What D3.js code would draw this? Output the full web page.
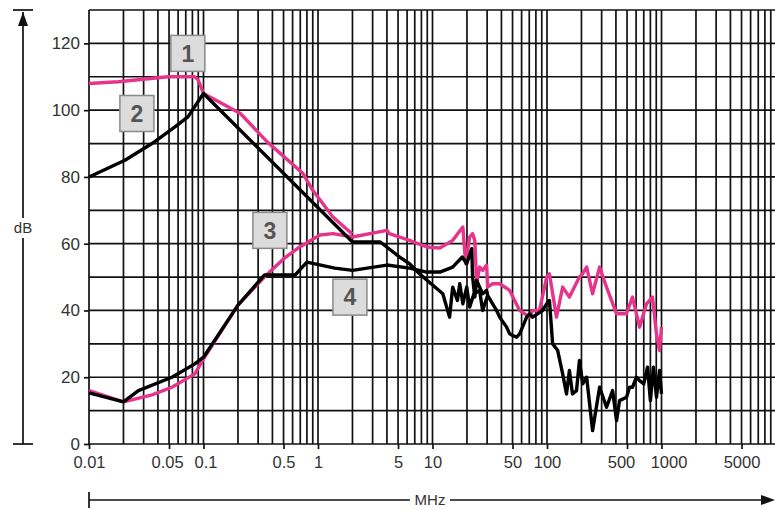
<!DOCTYPE html>
<html>
<head>
<meta charset="utf-8">
<script src="https://cdn.jsdelivr.net/npm/d3@7"></script>
<style>
  html, body { margin: 0; padding: 0; background: #fff; }
  svg { display: block; }
  text { font-family: "Liberation Sans", Arial, Helvetica, sans-serif; }
</style>
</head>
<body>
<svg id="chart" width="775" height="510"></svg>
<script>
'use strict';

// curve 1 (magenta, upper)
const curve1 = [
  [0.01, 108], [0.018, 108.5], [0.049, 110], [0.084, 110], [0.09, 109], [0.1, 105],
  [0.21, 99], [0.36, 90.5], [0.74, 81], [0.9, 76], [1.35, 68], [1.9, 63.5], [2.0, 63]
];

// curve 2 (black, upper)
const curve2 = [
  [0.01, 80], [0.0206, 85], [0.0355, 90], [0.0563, 95], [0.0731, 98], [0.1, 105],
  [2.0, 60.5], [3.5, 60.5], [5.17, 56], [6.3, 54], [7.7, 51], [9, 49], [10.5, 47],
  [12.3, 45], [14.1, 38], [15, 47], [16.5, 43], [17.3, 48], [18.4, 42], [19.9, 47],
  [21.1, 41], [23, 45], [25.8, 46], [27.4, 40], [30.3, 44.5]
];

// curve 3 (magenta, lower)
const curve3 = [
  [0.01, 16], [0.02, 12.6], [0.0355, 14.7], [0.053, 17], [0.084, 21], [0.1, 25.5],
  [0.2, 41.6], [0.34, 50], [0.51, 55.7], [0.67, 58.7], [1.04, 62.6], [1.35, 63],
  [2.0, 62], [4.0, 64], [4.2, 63], [6.3, 61], [8.9, 59], [11.6, 58.7], [15, 61],
  [18.4, 65], [19.5, 54], [21.1, 62], [22.4, 63], [23.4, 61], [24.3, 48], [25.8, 53],
  [27.4, 52], [29.7, 53.6], [30.3, 47], [33.5, 48], [38.6, 48], [47.2, 46], [57.7, 40],
  [70.5, 38], [74.8, 40], [86, 40], [99.3, 50], [105, 51], [121, 38], [137, 47],
  [157, 44], [192, 50], [205, 51], [222, 53], [250, 45], [288, 53], [331, 47],
  [405, 39], [495, 39], [558, 44], [643, 35], [740, 42], [834, 44], [904, 33],
  [961, 28], [1000, 35]
];

// curve 4 (black, lower)
const curve4 = [
  [0.01, 15.3], [0.02, 12.6], [0.027, 16], [0.053, 20], [0.084, 24], [0.1, 26],
  [0.2, 41.6], [0.34, 50.6], [0.63, 50.6], [0.8, 54.5], [1.4, 52.7], [2.0, 52],
  [4.0, 53.6], [6.3, 52.7], [8.9, 51.5], [11.6, 51.5], [15, 53], [18.2, 56],
  [19.9, 54], [22, 58.5], [22.4, 50], [23.4, 44], [24.3, 49], [25.8, 47], [27.4, 45],
  [29.7, 46], [30.3, 44.5], [33.5, 42], [36.3, 40], [38.6, 38], [44.4, 35], [47.2, 33],
  [50.1, 32.5], [54.3, 32], [57.7, 33], [66.4, 38], [70.5, 39], [74.8, 38], [82.7, 39],
  [91.5, 40], [99.3, 42], [105, 43], [112, 30], [124, 28], [137, 21], [148, 15],
  [157, 22], [167, 15], [181, 16], [192, 25], [205, 18], [222, 20], [250, 4], [288, 17],
  [331, 11], [374, 16], [405, 7], [430, 13], [495, 14], [526, 17], [558, 17], [605, 20],
  [643, 19], [700, 18], [755, 23], [800, 13], [850, 23], [904, 14], [961, 22], [1000, 15]
];

const markers = [["1", 0.073, 117], ["2", 0.0262, 99], ["3", 0.38, 64], ["4", 1.9, 44]];

const xTicks = [0.01, 0.05, 0.1, 0.5, 1, 5, 10, 50, 100, 500, 1000, 5000];
const yTicks = [0, 20, 40, 60, 80, 100, 120];


const magenta = "#e6348c";
const svg = d3.select("#chart");

const x = d3.scaleLog().domain([0.01, 10000]).range([89, 776]);
const y = d3.scaleLinear().domain([0, 130]).range([444, 10]);

// grid
const grid = svg.append("g").attr("stroke", "#111").attr("stroke-width", 1.7);

let vLines = [];
for(let dec = 0.01; dec < 10000; dec *= 10) {
  for(let k = 1; k <= 9; k++) {
    vLines.push(+(dec * k).toPrecision(3));
  }
}
vLines.push(10000);

grid.selectAll("line.v")
  .data(vLines)
  .enter()
  .append("line")
  .attr("class", "v")
  .attr("x1", d => x(d)).attr("x2", d => x(d))
  .attr("y1", y(130)).attr("y2", y(0));

grid.selectAll("line.h")
  .data(d3.range(0, 131, 10))
  .enter()
  .append("line")
  .attr("class", "h")
  .attr("x1", x(0.01)).attr("x2", x(10000))
  .attr("y1", d => y(d)).attr("y2", d => y(d));

// axes
const yAxis = d3.axisLeft(y).tickValues(yTicks).tickSize(5).tickPadding(4);
const yg = svg.append("g").attr("transform", `translate(${x(0.01)},0)`).call(yAxis);
yg.select(".domain").remove();
yg.selectAll("line").attr("stroke", "#111").attr("stroke-width", 1.7);
yg.selectAll("text").attr("font-size", 17).attr("fill", "#333")
  .attr("font-family", "Liberation Sans, Arial, sans-serif");

// small nudges so neighbouring labels do not touch, as in the original
const nudge = {500: -6, 1000: 7, 0.05: -2, 0.1: 2};
const fmt = d => (d < 1 ? String(d) : d3.format("d")(d));
const xAxis = d3.axisBottom(x).tickValues(xTicks).tickFormat(fmt).tickSize(5).tickPadding(7);
const xg = svg.append("g").attr("transform", `translate(0,${y(0)})`).call(xAxis);
xg.select(".domain").remove();
xg.selectAll("line").attr("stroke", "#111").attr("stroke-width", 1.7);
xg.selectAll("text").attr("font-size", 16.5).attr("fill", "#333")
  .attr("font-family", "Liberation Sans, Arial, sans-serif")
  .attr("dx", d => nudge[d] || 0);

// curves
const line = d3.line().x(d => x(d[0])).y(d => y(d[1]));
const curves = [
  [curve3, magenta],
  [curve1, magenta],
  [curve4, "#000"],
  [curve2, "#000"]
];

svg.append("g")
  .selectAll("path")
  .data(curves)
  .enter()
  .append("path")
  .attr("d", d => line(d[0]))
  .attr("fill", "none")
  .attr("stroke", d => d[1])
  .attr("stroke-width", 3.4)
  .attr("stroke-linejoin", "round");

// numbered boxes
const box = svg.append("g")
  .selectAll("g")
  .data(markers)
  .enter()
  .append("g")
  .attr("transform", d => `translate(${x(d[1])},${y(d[2])})`);

box.append("rect")
  .attr("x", -17).attr("y", -18)
  .attr("width", 34).attr("height", 36)
  .attr("fill", "#dcdcdc")
  .attr("stroke", "#8a8a8a")
  .attr("stroke-width", 1.5);

box.append("text")
  .attr("text-anchor", "middle")
  .attr("dy", "0.36em")
  .attr("font-size", 23)
  .attr("font-weight", "bold")
  .attr("fill", "#555")
  .text(d => d[0]);

// dB arrow on the left
const ax = svg.append("g").attr("stroke", "#111").attr("stroke-width", 1.7);
ax.append("line").attr("x1", 23).attr("x2", 23).attr("y1", y(130) + 2).attr("y2", y(0));
ax.append("line").attr("x1", 13).attr("x2", 33).attr("y1", y(130)).attr("y2", y(130));
ax.append("line").attr("x1", 13).attr("x2", 33).attr("y1", y(0)).attr("y2", y(0));
svg.append("path")
  .attr("d", `M23 ${y(130) + 2} l-5 14 h10 z`)
  .attr("fill", "#111");
svg.append("rect").attr("x", 10).attr("y", 218).attr("width", 26).attr("height", 20).attr("fill", "#fff");
svg.append("text")
  .attr("x", 23).attr("y", 228).attr("dy", "0.35em")
  .attr("text-anchor", "middle")
  .attr("font-size", 15).attr("fill", "#333")
  .text("dB");

// MHz arrow at the bottom
const bx = svg.append("g").attr("stroke", "#111").attr("stroke-width", 1.7);
bx.append("line").attr("x1", x(0.01)).attr("x2", 770).attr("y1", 500).attr("y2", 500);
bx.append("line").attr("x1", x(0.01)).attr("x2", x(0.01)).attr("y1", 492).attr("y2", 508);
svg.append("path")
  .attr("d", "M775 500 l-14 -5 v10 z")
  .attr("fill", "#111");
svg.append("rect").attr("x", 410).attr("y", 490).attr("width", 40).attr("height", 20).attr("fill", "#fff");
svg.append("text")
  .attr("x", 430).attr("y", 500).attr("dy", "0.35em")
  .attr("text-anchor", "middle")
  .attr("font-size", 15).attr("fill", "#333")
  .text("MHz");
</script>
</body>
</html>
